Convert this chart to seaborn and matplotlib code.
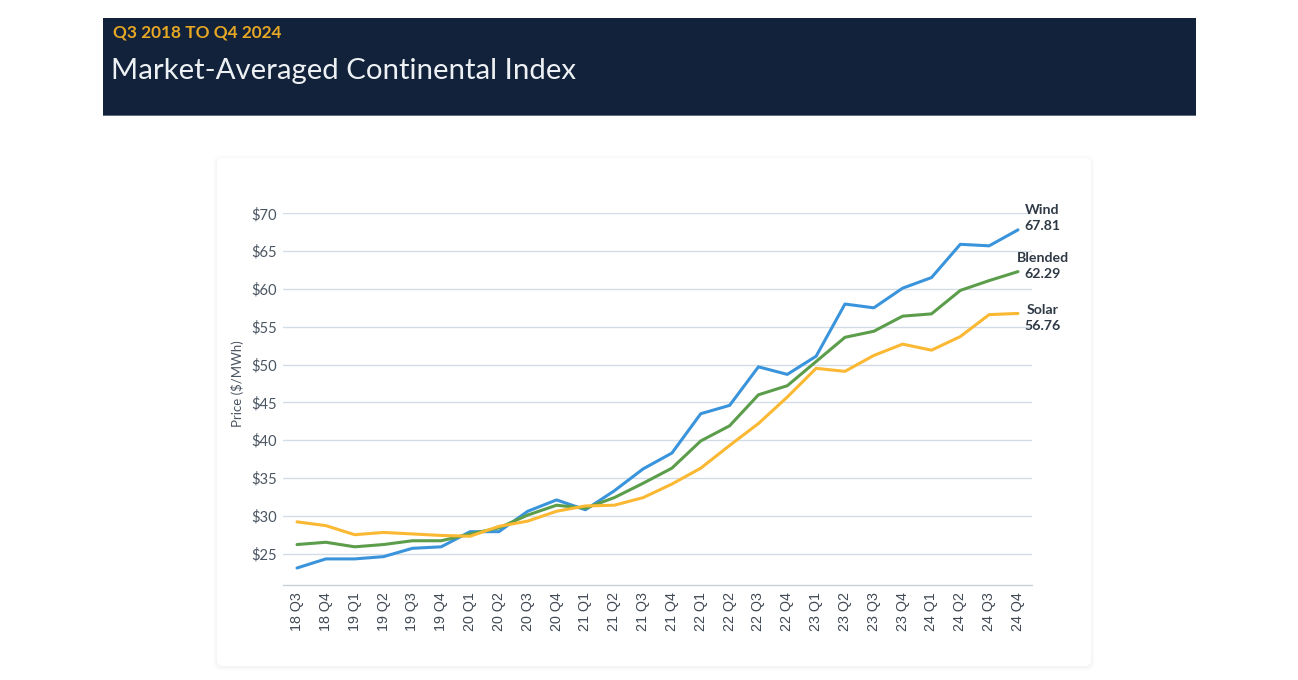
"""
Market-Averaged Continental Index, Q3 2018 to Q4 2024.
Line chart of wind, solar and blended prices ($/MWh) per quarter.
"""

import pandas as pd
import matplotlib
matplotlib.use("Agg")
import matplotlib.pyplot as plt
from matplotlib.patches import FancyBboxPatch, Rectangle
import seaborn as sns

# quarter labels on the x axis
quarters = ["18 Q3", "18 Q4",
            "19 Q1", "19 Q2", "19 Q3", "19 Q4",
            "20 Q1", "20 Q2", "20 Q3", "20 Q4",
            "21 Q1", "21 Q2", "21 Q3", "21 Q4",
            "22 Q1", "22 Q2", "22 Q3", "22 Q4",
            "23 Q1", "23 Q2", "23 Q3", "23 Q4",
            "24 Q1", "24 Q2", "24 Q3", "24 Q4"]

# prices ($/MWh)
wind = [23.1, 24.3, 24.3, 24.6, 25.7, 25.9, 27.9, 27.9, 30.6, 32.1, 30.8, 33.3, 36.2,
        38.3, 43.5, 44.6, 49.7, 48.7, 51.1, 58.0, 57.5, 60.1, 61.5, 65.9, 65.7, 67.81]
blended = [26.2, 26.5, 25.9, 26.2, 26.7, 26.7, 27.6, 28.4, 30.1, 31.4, 31.0, 32.4, 34.3,
           36.3, 39.9, 41.9, 46.0, 47.2, 50.4, 53.6, 54.4, 56.4, 56.7, 59.8, 61.1, 62.29]
solar = [29.2, 28.7, 27.5, 27.8, 27.6, 27.4, 27.3, 28.6, 29.3, 30.6, 31.3, 31.4, 32.4,
         34.2, 36.3, 39.3, 42.2, 45.7, 49.5, 49.1, 51.2, 52.7, 51.9, 53.7, 56.6, 56.76]

y_ticks = [25, 30, 35, 40, 45, 50, 55, 60, 65, 70]

series_names = ["Wind", "Blended", "Solar"]
palette = {"Wind": "#3a94dc", "Blended": "#5b9d4a", "Solar": "#fbb832"}

df = pd.DataFrame({"quarter": quarters, "Wind": wind, "Blended": blended, "Solar": solar})
long_df = df.melt(id_vars="quarter", var_name="series", value_name="price")

sns.set_style("white")
plt.rcParams["font.family"] = ["Lato", "DejaVu Sans"]

fig = plt.figure(figsize=(12.98, 6.80), dpi=100)

# background layer in pixel coordinates
bg = fig.add_axes([0, 0, 1, 1], zorder=0)
bg.set_xlim(0, 1298)
bg.set_ylim(680, 0)
bg.axis("off")

# header band
bg.add_patch(Rectangle((103, 18), 1093, 98, facecolor="#11223a", edgecolor="none"))
bg.add_patch(Rectangle((103, 114.8), 1093, 1.5, facecolor="#5f6d7c", edgecolor="none"))
bg.text(113, 33, "Q3 2018 TO Q4 2024", color="#e5a724", fontsize=12.4,
        fontweight="bold", va="center", ha="left")
bg.text(111, 71, "Market-Averaged Continental Index", color="#eef1f4", fontsize=21.2,
        fontweight="normal", va="center", ha="left")

# card with a faint shadow
for i, a in enumerate([0.006, 0.008, 0.010, 0.013]):
    pad = 4 - i
    bg.add_patch(FancyBboxPatch((217 - pad, 158 - pad + 1), 874 + 2 * pad, 508 + 2 * pad,
                                boxstyle="round,pad=0,rounding_size=8",
                                facecolor="black", alpha=a, edgecolor="none"))
bg.add_patch(FancyBboxPatch((217, 158), 874, 508, boxstyle="round,pad=0,rounding_size=6",
                            facecolor="white", edgecolor="none"))

# the chart itself
ax = fig.add_axes([282.6 / 1298, 1 - 585 / 680, 749.8 / 1298, (585 - 213.3) / 680], zorder=2)
ax.patch.set_alpha(0)
sns.lineplot(data=long_df, x="quarter", y="price", hue="series", hue_order=series_names,
             palette=palette, linewidth=2.2, legend=False, ax=ax)

ax.set_xlim(-0.5, len(quarters) - 0.5)
ax.set_ylim(20.85, 70)
ax.set_yticks(y_ticks)
ax.set_yticklabels([f"${v}" for v in y_ticks])
ax.yaxis.grid(True, color="#d2dce7", linewidth=1.0)
ax.set_axisbelow(True)

ax.set_xticks(range(len(quarters)))
ax.set_xticklabels(quarters, rotation=90, fontsize=10.3, color="#3f4853")
for lab in ax.get_xticklabels():
    lab.set_fontfamily(["Liberation Sans", "DejaVu Sans"])
ax.set_xticks([i - 0.5 for i in range(len(quarters) + 1)], minor=True)
ax.tick_params(axis="x", which="major", length=0, pad=5)
ax.tick_params(axis="x", which="minor", length=5, color="#c8d0d8", width=0.8)
ax.tick_params(axis="y", length=0, pad=4, labelsize=10.6, labelcolor="#4a5562")

sns.despine(ax=ax, left=True, top=True, right=True)
ax.spines["bottom"].set_color("#c8d0d8")
ax.spines["bottom"].set_linewidth(1.0)

ax.set_xlabel("")
ax.set_ylabel("Price ($/MWh)", fontsize=9.5, color="#4a5562")
ax.yaxis.set_label_coords(-0.052, 0.541)

# end labels
last = len(quarters) - 1
for name, values, dy in [("Wind", wind, 1.55), ("Blended", blended, 0.75), ("Solar", solar, -0.6)]:
    y_end = values[-1] + dy
    ax.text(last + 0.85, y_end + 1.1, name, ha="center", va="center", fontsize=10.2,
            fontweight="bold", color="#2f3a46", clip_on=False)
    ax.text(last + 0.85, y_end - 1.1, f"{values[-1]:.2f}", ha="center", va="center",
            fontsize=10.2, fontweight="bold", color="#2f3a46", clip_on=False)

fig.savefig("out.png", dpi=100)
